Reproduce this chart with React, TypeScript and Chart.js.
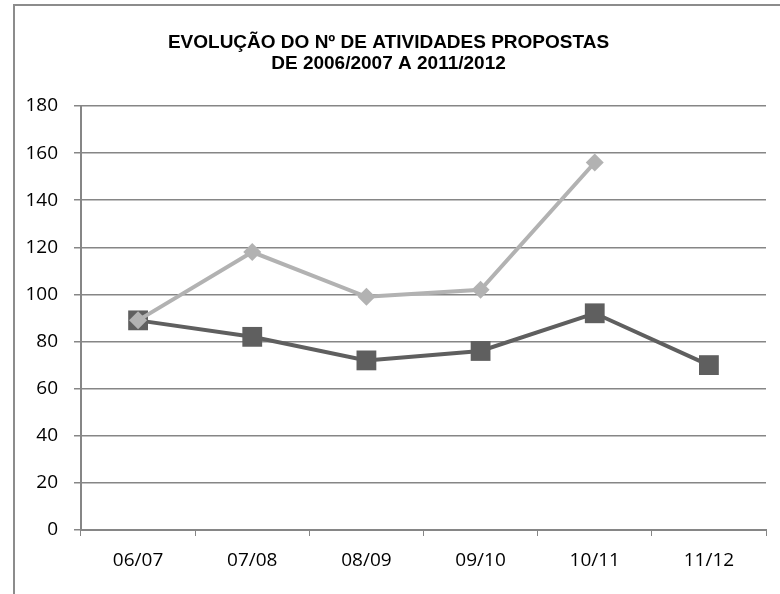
import React, { useEffect, useRef } from "react";
import { Chart, registerables } from "chart.js";

Chart.register(...registerables);

const categories = ["06/07", "07/08", "08/09", "09/10", "10/11", "11/12"];
const seriesDark = [89, 82, 72, 76, 92, 70];
const seriesLight: (number | null)[] = [89, 118, 99, 102, 156, null];
const titleLines = ["EVOLUÇÃO DO Nº DE ATIVIDADES PROPOSTAS", "DE 2006/2007 A 2011/2012"];

const borderPlugin = {
  id: "outerBorder",
  beforeDraw(chart: any) {
    const ctx = chart.ctx;
    ctx.save();
    ctx.strokeStyle = "#8c8c8c";
    ctx.lineWidth = 2;
    ctx.beginPath();
    ctx.moveTo(14, 600);
    ctx.lineTo(14, 5);
    ctx.lineTo(790, 5);
    ctx.stroke();
    ctx.restore();
  },
};

export default function App() {
  const ref = useRef<HTMLCanvasElement | null>(null);
  useEffect(() => {
    if (!ref.current) return;
    const chart = new Chart(ref.current, {
      type: "line",
      data: {
        labels: categories,
        datasets: [
          {
            label: "B",
            data: seriesLight,
            borderColor: "#b2b2b2",
            backgroundColor: "#b2b2b2",
            borderWidth: 4,
            pointStyle: "rectRot",
            pointRadius: 9,
            pointBorderWidth: 0,
            tension: 0,
          },
          {
            label: "A",
            data: seriesDark,
            borderColor: "#5f5f5f",
            backgroundColor: "#5f5f5f",
            borderWidth: 4,
            pointStyle: "rect",
            pointRadius: 14,
            pointBorderWidth: 0,
            tension: 0,
          },
        ],
      },
      options: {
        animation: false,
        responsive: false,
        layout: { padding: { left: 0, right: 3, top: 0, bottom: 0 } },
        plugins: {
          legend: { display: false },
          tooltip: { enabled: false },
          title: {
            display: true,
            text: titleLines,
            color: "#000",
            font: { family: "'Liberation Sans Narrow', 'Liberation Sans', Arial", size: 19, weight: "bold", lineHeight: "21px" },
            padding: { top: 32, bottom: 32 },
          },
        },
        scales: {
          x: {
            offset: true,
            grid: {
              display: true,
              offset: true,
              drawOnChartArea: false,
              drawTicks: true,
              tickLength: 6,
              color: "#868686",
            },
            border: { color: "#868686", width: 2 },
            ticks: { color: "#000", padding: 13, font: { family: "'Open Sans'", size: 19 } },
            afterFit: (s: any) => { s.height = 64; },
          },
          y: {
            min: 0,
            max: 180,
            ticks: { stepSize: 20, color: "#000", padding: 16, font: { family: "'Open Sans'", size: 19 } },
            grid: { color: "#868686", lineWidth: 1.5, tickLength: 7 },
            border: { color: "#868686", width: 2 },
            afterFit: (s: any) => { s.width = 81; },
          },
        },
      },
      plugins: [borderPlugin],
    });
    return () => chart.destroy();
  }, []);
  return (
    <div style={{ position: "fixed", left: 0, top: 0, width: 780, height: 594, background: "#fff" }}>
      <canvas ref={ref} width={780} height={594} style={{ display: "block" }} />
    </div>
  );
}
